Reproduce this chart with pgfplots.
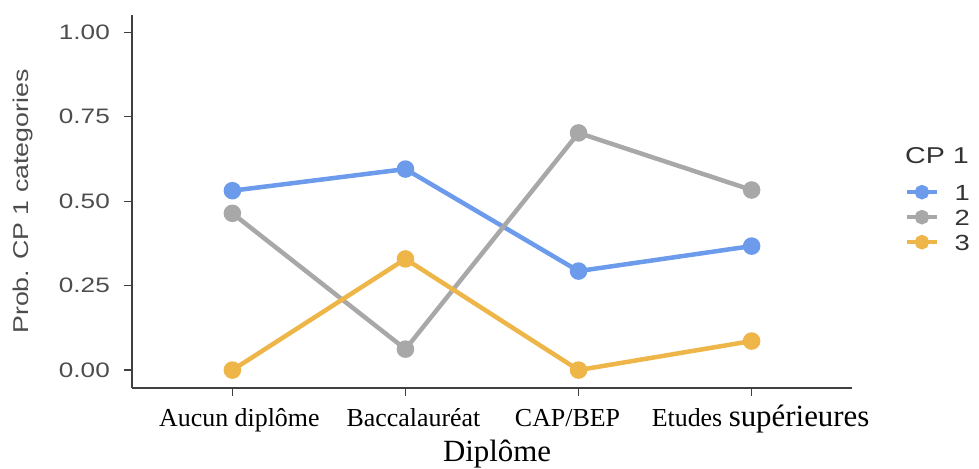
\documentclass[border=0pt]{standalone}
\usepackage{pgfplots}
\pgfplotsset{compat=1.18}
\usepackage{fontspec}
\setmainfont{Liberation Serif}
\newfontfamily\sansw[FakeStretch=1.25]{Liberation Sans}
\definecolor{cpblue}{RGB}{108,155,235}
\definecolor{cpgray}{RGB}{168,168,168}
\definecolor{cporange}{RGB}{238,182,72}
\definecolor{tickgray}{RGB}{77,77,77}
\definecolor{titlegray}{RGB}{51,51,51}
\begin{document}
\begin{tikzpicture}
\useasboundingbox (0,0) rectangle (979bp,469bp);
\begin{axis}[
  scale only axis, width=720bp, height=373bp,
  at={(132bp,81bp)}, anchor=south west,
  xmin=-0.58, xmax=3.58, ymin=-0.053, ymax=1.051,
  axis lines*=left,
  axis line style={color=black!75, line width=1.3bp},
  tick style={color=black!75, line width=1.3bp},
  tick align=outside, major tick length=8bp,
  xtick={0,1,2,3},
  xticklabels={\hspace*{14bp}Aucun diplôme,\hspace*{16bp}Baccalauréat,CAP/BEP\hspace*{22bp},\hspace*{18bp}Etudes {\fontsize{31}{31}\selectfont supérieures}},
  xticklabel style={font=\fontsize{26}{26}\selectfont, text=black, anchor=base, inner sep=0pt, yshift=-30bp},
  ytick={0,0.25,0.5,0.75,1},
  yticklabels={0.00,0.25,0.50,0.75,1.00},
  yticklabel style={font=\sansw\fontsize{21}{21}\selectfont, text=tickgray, anchor=east, inner sep=0pt, xshift=-14bp},
  xlabel={Diplôme},
  xlabel style={font=\fontsize{31}{31}\selectfont, text=black, at={(axis description cs:0.507,-0.198)}, anchor=base},
  ylabel={Prob. CP 1 categories},
  ylabel style={font=\sansw\fontsize{21.5}{21.5}\selectfont, text=tickgray, at={(axis description cs:-0.1444,0.5)}, anchor=base},
  every axis plot/.append style={line width=4.5bp, mark=*, mark size=6.5bp},
  legend image code/.code={\draw[#1, line width=3.5bp, mark size=5.5bp, mark repeat=2, mark phase=2] plot coordinates {(0bp,0bp) (15bp,0bp) (30bp,0bp)};},
  legend style={at={(axis description cs:1.0736,0.547)}, anchor=north west, draw=none, fill=none, inner sep=0pt, row sep=9bp,
    font=\sansw\fontsize{22}{22}\selectfont, text=titlegray,
    nodes={inner xsep=0pt, inner ysep=0pt, text height=16bp, text depth=0pt},
    column sep=0bp},
  legend cell align=left,
  clip=false,
]
\addplot[color=cpblue, mark options={fill=cpblue, draw=cpblue}] coordinates {(0,0.531) (1,0.595) (2,0.293) (3,0.367)};
\addlegendentry{\hspace*{16bp}1}
\addplot[color=cpgray, mark options={fill=cpgray, draw=cpgray}] coordinates {(0,0.464) (1,0.062) (2,0.702) (3,0.533)};
\addlegendentry{\hspace*{16bp}2}
\addplot[color=cporange, mark options={fill=cporange, draw=cporange}] coordinates {(0,0.0) (1,0.329) (2,0.0) (3,0.086)};
\addlegendentry{\hspace*{16bp}3}
\node[anchor=base west, inner sep=0pt, font=\sansw\fontsize{23}{23}\selectfont, text=titlegray] at (axis description cs:1.0736,0.601) {CP 1};
\end{axis}
\end{tikzpicture}
\end{document}
